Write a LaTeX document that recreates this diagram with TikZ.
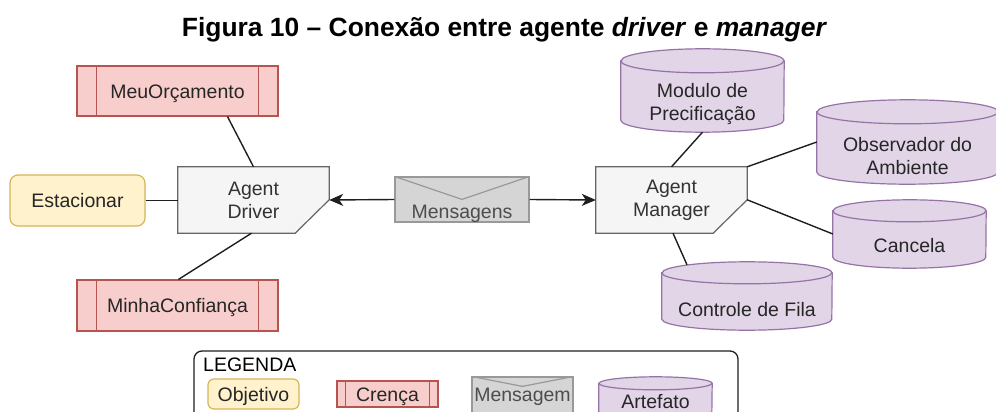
\documentclass[tikz,border=0pt]{standalone}
\usepackage{fontspec}
\setmainfont{Liberation Sans}
\usetikzlibrary{arrows.meta,backgrounds}

\definecolor{agentfill}{HTML}{F5F5F5}
\definecolor{agentline}{HTML}{666666}
\definecolor{agenttxt}{HTML}{333333}
\definecolor{belieffill}{HTML}{F8CECC}
\definecolor{beliefline}{HTML}{B85450}
\definecolor{goalfill}{HTML}{FFF2CC}
\definecolor{goalline}{HTML}{D6B656}
\definecolor{artfill}{HTML}{E1D5E7}
\definecolor{artline}{HTML}{9673A6}
\definecolor{msgfill}{HTML}{D5D5D5}
\definecolor{msgline}{HTML}{999999}
\definecolor{msgtxt}{HTML}{4D4D4D}
\definecolor{txt}{HTML}{262626}
\definecolor{linkc}{HTML}{1F1F1F}

% cylinder outline around a node: node name, half width, radius of the end ellipses
\newcommand\cylbody[3]{%
  \filldraw[artbox] ([yshift=-#3]#1.north west) -- ([yshift=#3]#1.south west)
    arc[start angle=180,end angle=360,x radius=#2,y radius=#3]
    -- ([yshift=-#3]#1.north east)
    arc[start angle=0,end angle=180,x radius=#2,y radius=#3] -- cycle;
  \draw[artbox,fill=none] ([yshift=-#3]#1.north west)
    arc[start angle=180,end angle=360,x radius=#2,y radius=#3];}

% the two side bars of a belief box
\newcommand\beliefbars[2]{%
  \draw[beliefline,line width=1.2pt]
    ([xshift=#2]#1.north west) -- ([xshift=#2]#1.south west)
    ([xshift=-#2]#1.north east) -- ([xshift=-#2]#1.south east);}

% agent box with its lower right corner cut off
\newcommand\agentshape[1]{%
  \filldraw[agentbox] (#1.north west) -- (#1.north east) -- ([yshift=-33pt]#1.north east)
    -- ([xshift=-34pt]#1.south east) -- (#1.south west) -- cycle;}

% envelope fold lines
\newcommand\envfold[2]{%
  \draw[msgline,line width=1.2pt] (#1.north west) -- ([yshift=-#2]#1.north) -- (#1.north east);}

\tikzset{
  every node/.style={font=\fontsize{19.5}{23}\selectfont, text=txt, align=center, inner sep=0pt},
  one/.style={text height=14pt, text depth=0pt},
  goal/.style={one, draw=goalline, fill=goalfill, line width=1.2pt, rounded corners=8pt},
  belief/.style={one, draw=beliefline, fill=belieffill, line width=1.2pt},
  agent/.style={text=agenttxt, minimum width=151pt, minimum height=66pt},
  agentbox/.style={draw=agentline, fill=agentfill, line width=1.2pt},
  artbox/.style={draw=artline, fill=artfill, line width=1.2pt},
  envelope/.style={draw=msgline, fill=msgfill, line width=1.2pt},
  msglabel/.style={one, text=msgtxt},
  link/.style={draw=linkc, line width=1.4pt},
  arr/.style={link, -{Stealth[length=14pt,width=12pt,inset=4pt]}},
}

\begin{document}
\begin{tikzpicture}[x=1pt,y=1pt]
\useasboundingbox (0,0) rectangle (996,-412);

% title
\node[anchor=base, text=black, font=\fontsize{26.4}{30}\selectfont\bfseries] (title) at (504.5,-37)
  {Figura 10 – Conexão entre agente \textit{driver} e \textit{manager}};

% driver side
\node[belief, minimum width=201pt, minimum height=50pt] (meu) at (177.5,-91) {MeuOrçamento};
\beliefbars{meu}{20pt}
\node[belief, minimum width=201pt, minimum height=51pt] (minha) at (177.5,-305.5) {MinhaConfiança};
\beliefbars{minha}{20pt}
\node[goal, minimum width=135pt, minimum height=51pt] (est) at (77.5,-200.5) {Estacionar};
\node[agent] (drv) at (253.5,-200) {Agent\\Driver};

% message between the agents
\node[envelope, minimum width=134pt, minimum height=45pt] (msg) at (462,-199.5) {};
\envfold{msg}{23pt}
\node[msglabel] (msgtext) at (462,-211.5) {Mensagens};

% manager side
\node[agent] (mgr) at (671.5,-200) {Agent\\Manager};
\node[minimum width=163pt, minimum height=83pt,
      label={[yshift=-14pt]center:{Modulo de\\Precificação}}] (mod) at (702.5,-90.5) {};
\node[minimum width=181pt, minimum height=84pt,
      label={[yshift=-14pt]center:{Observador do\\Ambiente}}] (obs) at (907.5,-142) {};
\node[minimum width=153pt, minimum height=68pt,
      label={[one,yshift=-11.5pt]center:Cancela}] (can) at (909.5,-234) {};
\node[minimum width=170pt, minimum height=68pt,
      label={[one,yshift=-13pt]center:Controle de Fila}] (ctl) at (747,-296) {};

\begin{scope}[on background layer]
  \agentshape{drv}
  \agentshape{mgr}
  \cylbody{mod}{81.5pt}{12pt}
  \cylbody{obs}{90.5pt}{12pt}
  \cylbody{can}{76.5pt}{11pt}
  \cylbody{ctl}{85pt}{11pt}
\end{scope}

% connectors
\draw[link] ([xshift=50pt]meu.south) -- (drv.north);
\draw[link] ([xshift=-2pt]drv.south) -- ([xshift=1pt]minha.north);
\draw[link] (est.east) -- (est.east -| drv.west);
\draw[arr] (msg.west) -- (drv.east);
\draw[arr] (msg.east) -- (mgr.west);
\draw[link] (mod.south) -- (mgr.north);
\draw[link] (mgr.north east) -- (obs.west);
\draw[link] ([yshift=-33pt]mgr.north east) -- (can.west);
\draw[link] ([xshift=1.5pt]mgr.south) -- ([xshift=-60pt,yshift=-3pt]ctl.north);

% legend
\node[draw=linkc, line width=1.3pt, rounded corners=8pt, minimum width=544pt, minimum height=80pt]
  (leg) at (466,-391) {};
\node[anchor=base west, text=black] (legtitle) at (203,-371) {LEGENDA};
\node[goal, rounded corners=6pt, minimum width=91pt, minimum height=30pt] (lgoal) at (253.5,-394) {Objetivo};
\node[belief, minimum width=101pt, minimum height=26pt] (lbel) at (387.5,-394) {Crença};
\beliefbars{lbel}{9pt}
\node[envelope, minimum width=101pt, minimum height=44pt] (lmsg) at (522.5,-399) {};
\envfold{lmsg}{10pt}
\node[msglabel] (lmsgtext) at (522.5,-394.5) {Mensagem};
\node[minimum width=113pt, minimum height=44pt,
      label={[one,yshift=-2.5pt]center:Artefato}] (lart) at (655.5,-399) {};
\begin{scope}[on background layer]
  \cylbody{lart}{56.5pt}{6.5pt}
\end{scope}
\end{tikzpicture}
\end{document}
